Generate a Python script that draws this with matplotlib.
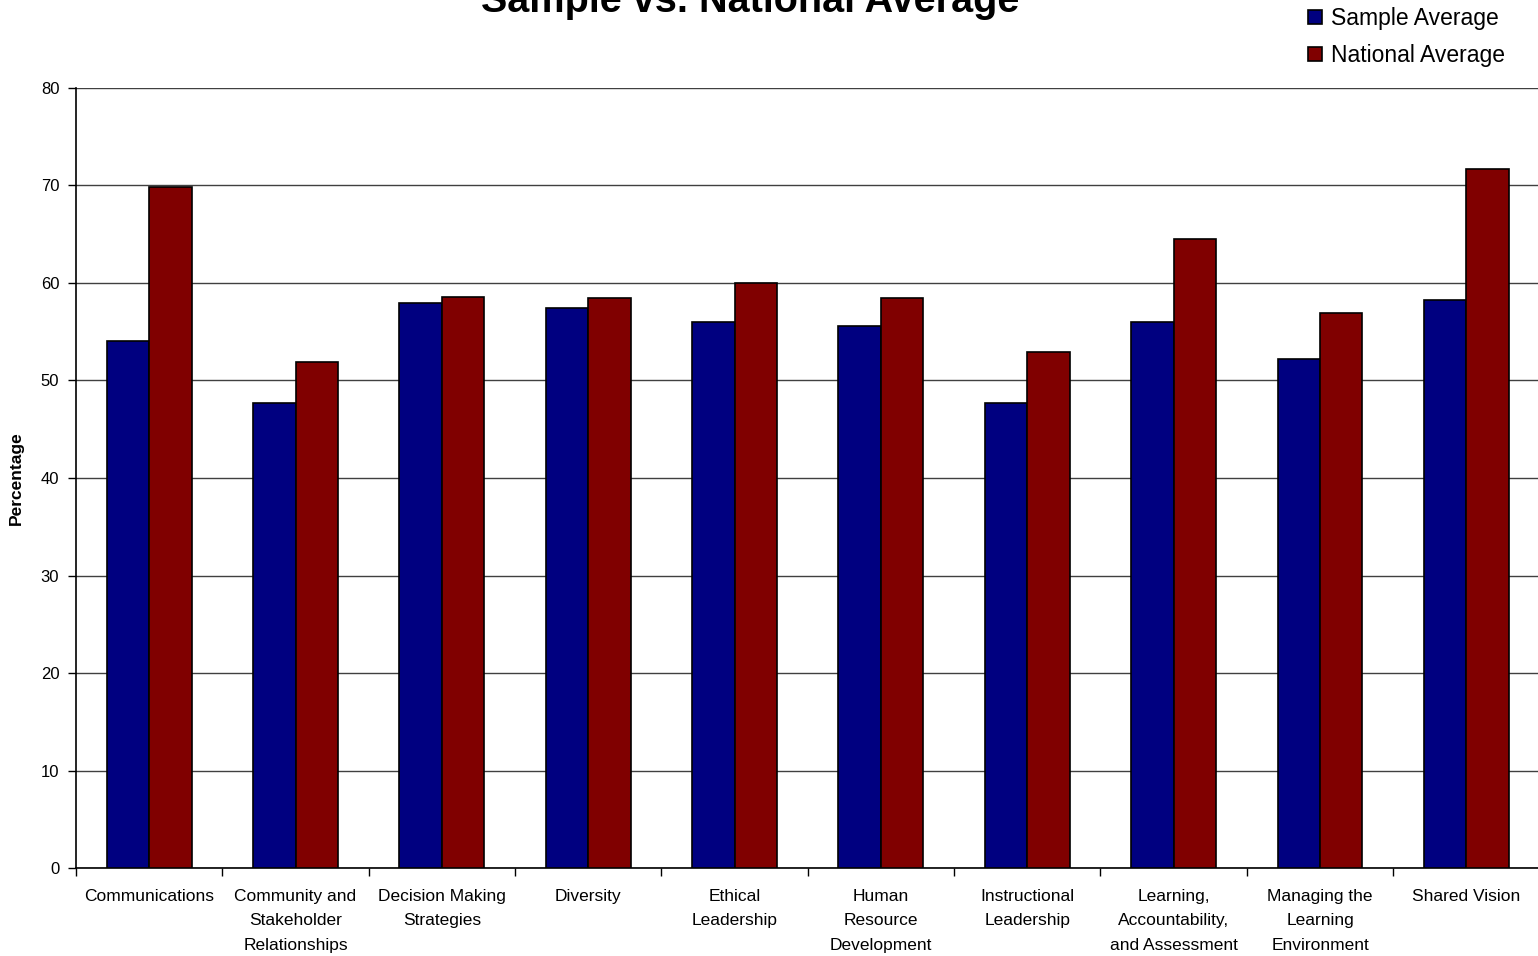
import numpy as np
import matplotlib.pyplot as plt
from matplotlib.ticker import FixedLocator

plt.rcParams['font.family'] = ['Liberation Sans', 'DejaVu Sans']

categories = [
    'Communications',
    'Community and\nStakeholder\nRelationships',
    'Decision Making\nStrategies',
    'Diversity',
    'Ethical\nLeadership',
    'Human\nResource\nDevelopment',
    'Instructional\nLeadership',
    'Learning,\nAccountability,\nand Assessment',
    'Managing the\nLearning\nEnvironment',
    'Shared Vision',
]
sample_avg = [54.1, 47.7, 57.9, 57.4, 56.0, 55.6, 47.7, 56.0, 52.2, 58.3]
national_avg = [69.8, 51.9, 58.6, 58.5, 60.0, 58.5, 52.9, 64.5, 56.9, 71.7]

fig = plt.figure(figsize=(15.38, 9.56), dpi=100)
ax = fig.add_axes([0.0494, 0.092, 0.9516, 0.816])

x = np.arange(len(categories))
w = 0.29
ax.bar(x - w / 2, sample_avg, w, color='#000080', edgecolor='black', linewidth=1.2,
       label='Sample Average', zorder=3)
ax.bar(x + w / 2, national_avg, w, color='#800000', edgecolor='black', linewidth=1.2,
       label='National Average', zorder=3)

ax.set_xlim(-0.5, len(categories) - 0.5)
ax.set_ylim(0, 80)
ax.set_yticks(range(0, 81, 10))
ax.yaxis.grid(True, color='#404040', linewidth=1)
ax.set_axisbelow(True)

ax.set_xticks(x)
ax.set_xticklabels(categories, fontsize=12.5, linespacing=1.8, va='top')
ax.xaxis.set_minor_locator(FixedLocator(np.arange(-0.5, len(categories), 1.0)))
ax.tick_params(axis='x', which='major', length=0, pad=15)
ax.tick_params(axis='x', which='minor', length=6, width=1, color='black')
ax.tick_params(axis='y', length=6, width=1, labelsize=12, pad=6)

for s in ['top', 'right']:
    ax.spines[s].set_visible(False)
ax.spines['left'].set_linewidth(1.2)
ax.spines['bottom'].set_linewidth(1.2)

ax.set_ylabel('Percentage', fontsize=12.5, fontweight='bold', labelpad=12)
fig.text(0.488, 0.999, 'Sample vs. National Average', ha='center', va='center',
         fontsize=28.5, fontweight='bold')

fig.legend(loc='upper right', bbox_to_anchor=(0.992, 1.014), frameon=False, fontsize=16.5,
           handlelength=0.6, handleheight=0.6, handletextpad=0.4, labelspacing=0.6)

fig.savefig('out.png', dpi=100)
